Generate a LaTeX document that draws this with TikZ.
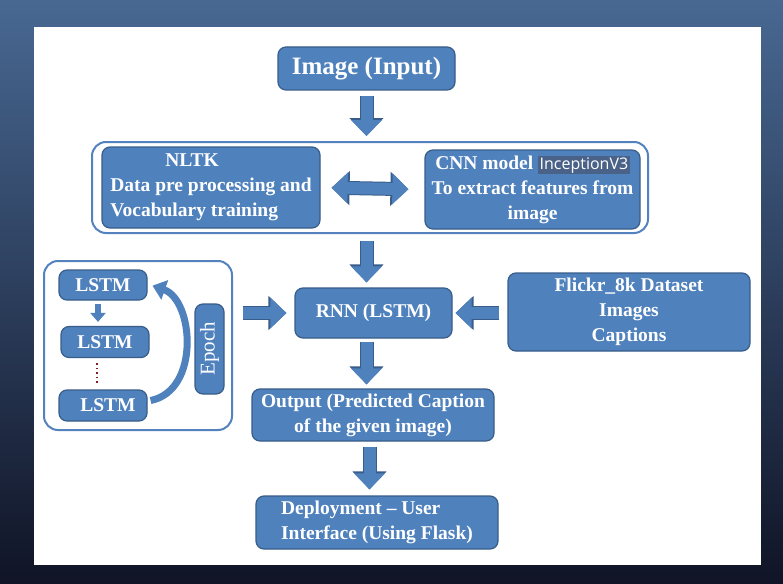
\documentclass[tikz,border=0pt]{standalone}
\usepackage{fontspec}
\setmainfont{Liberation Serif}
\newfontfamily\incfont{Open Sans}
\usetikzlibrary{arrows.meta,calc}

\definecolor{boxblue}{RGB}{79,129,189}
\definecolor{boxedge}{RGB}{56,93,138}
\definecolor{frameblue}{RGB}{84,130,190}
\definecolor{hilite}{RGB}{74,98,135}
\definecolor{dotred}{RGB}{130,30,30}
\definecolor{bgtop}{RGB}{72,104,146}
\definecolor{bgbot}{RGB}{16,20,38}

\tikzset{
  bluebox/.style={draw=boxedge, line width=1.2pt, fill=boxblue, rounded corners=8pt,
    text=white, font=\fontsize{19.5}{25}\selectfont\bfseries, inner sep=2pt},
  framebox/.style={draw=frameblue, line width=2pt, rounded corners=14pt, fill=white},
  blockarrow/.style={boxblue, line width=12pt, -{Triangle[width=30pt,length=16pt]},
    preaction={draw=boxedge, line width=14pt, -{Triangle[width=33pt,length=18pt]}}},
  twowayarrow/.style={boxblue, line width=12pt,
    {Triangle[width=30pt,length=16pt]}-{Triangle[width=30pt,length=16pt]},
    preaction={draw=boxedge, line width=14pt,
      {Triangle[width=33pt,length=18pt]}-{Triangle[width=33pt,length=18pt]}}},
  smallarrow/.style={boxblue, line width=6pt, -{Triangle[width=15pt,length=9pt]}},
  curvearrow/.style={boxblue, line width=7pt, -{Triangle[width=20pt,length=13pt]}},
}

\begin{document}
\begin{tikzpicture}[x=1pt,y=-1pt]
  % background and panel
  \shade[top color=bgtop, bottom color=bgbot] (0,0) rectangle (783,583);
  \fill[white] (34,27) rectangle (761,565);

  % frames
  \node[framebox, minimum width=556, minimum height=91] (prep) at (370,187.5) {};
  \node[framebox, minimum width=188, minimum height=169] (lstmbox) at (138,345.5) {};

  % boxes
  \node[bluebox, minimum width=177, minimum height=43, font=\fontsize{25}{30}\selectfont\bfseries]
    (img) at (366.5,68.5) {Image (Input)};
  \node[bluebox, minimum width=218, minimum height=81, align=left] (nltk) at (211,187.5)
    {\hspace*{55pt}NLTK\\Data pre processing and\\Vocabulary training};
  \node[bluebox, minimum width=215, minimum height=79, align=center] (cnn) at (532.5,189.5)
    {CNN model {\incfont\mdseries\fontsize{16}{18}\selectfont\setlength\fboxsep{1.5pt}\colorbox{hilite}{InceptionV3}}\\
     To extract features from\\image};
  \node[bluebox, minimum width=88, minimum height=30] (l1) at (103,285) {LSTM};
  \node[bluebox, minimum width=88, minimum height=31] (l2) at (105,342) {LSTM};
  \node[bluebox, minimum width=88, minimum height=31] (l3) at (103,405.5) {\hspace*{10pt}LSTM};
  \node[bluebox, minimum width=90, minimum height=29, rotate=90,
    font=\fontsize{21}{25}\selectfont] (epoch) at (209.5,349) {Epoch};
  \node[bluebox, minimum width=157, minimum height=50] (rnn) at (373.5,313) {RNN (LSTM)};
  \node[bluebox, minimum width=242, minimum height=78, align=center] (flickr) at (629,312)
    {Flickr\_8k Dataset\\Images\\Captions};
  \node[bluebox, minimum width=242, minimum height=52, align=center] (out) at (373,415)
    {Output (Predicted Caption\\of the given image)};
  \node[bluebox, minimum width=242, minimum height=53, align=left] (deploy) at (377,522.5)
    {Deployment -- User\\Interface (Using Flask)};

  % arrows
  \draw[blockarrow, shorten <=5pt, shorten >=5pt] (img.south) -- (img.south |- prep.north);
  \draw[twowayarrow, shorten <=11pt, shorten >=16pt] (nltk.east) -- (cnn.west);
  \draw[blockarrow, shorten <=7pt, shorten >=5pt] (img.south |- prep.south) -- (img.south |- rnn.north);
  \draw[blockarrow, shorten <=10pt, shorten >=8pt] (lstmbox.east |- rnn.west) -- (rnn.west);
  \draw[blockarrow, shorten <=8pt, shorten >=3pt] (flickr.west |- rnn.east) -- (rnn.east);
  \draw[blockarrow, shorten <=3pt, shorten >=4pt] (img.south |- rnn.south) -- (img.south |- out.north);
  \draw[blockarrow, shorten <=5pt, shorten >=6pt] ($(img.south |- out.south)+(3,0)$) -- ($(img.south |- deploy.north)+(3,0)$);

  % inside the lstm frame
  \draw[smallarrow, shorten <=3pt, shorten >=4pt] ($(l1.south)+(-5,0)$) -- ($(l1.south |- l2.north)+(-5,0)$);
  \draw[dotred, line width=1.5pt, dash pattern=on 1.5pt off 3pt, shorten <=5pt, shorten >=5pt]
    ($(l2.south)+(-8,0)$) -- ($(l2.south |- l3.north)+(-8,0)$);
  \draw[curvearrow, shorten >=2pt] ($(l3.east)+(3,-5)$) .. controls +(50,-10) and +(43,15) .. ($(l1.east)+(3,0)$);
\end{tikzpicture}
\end{document}
